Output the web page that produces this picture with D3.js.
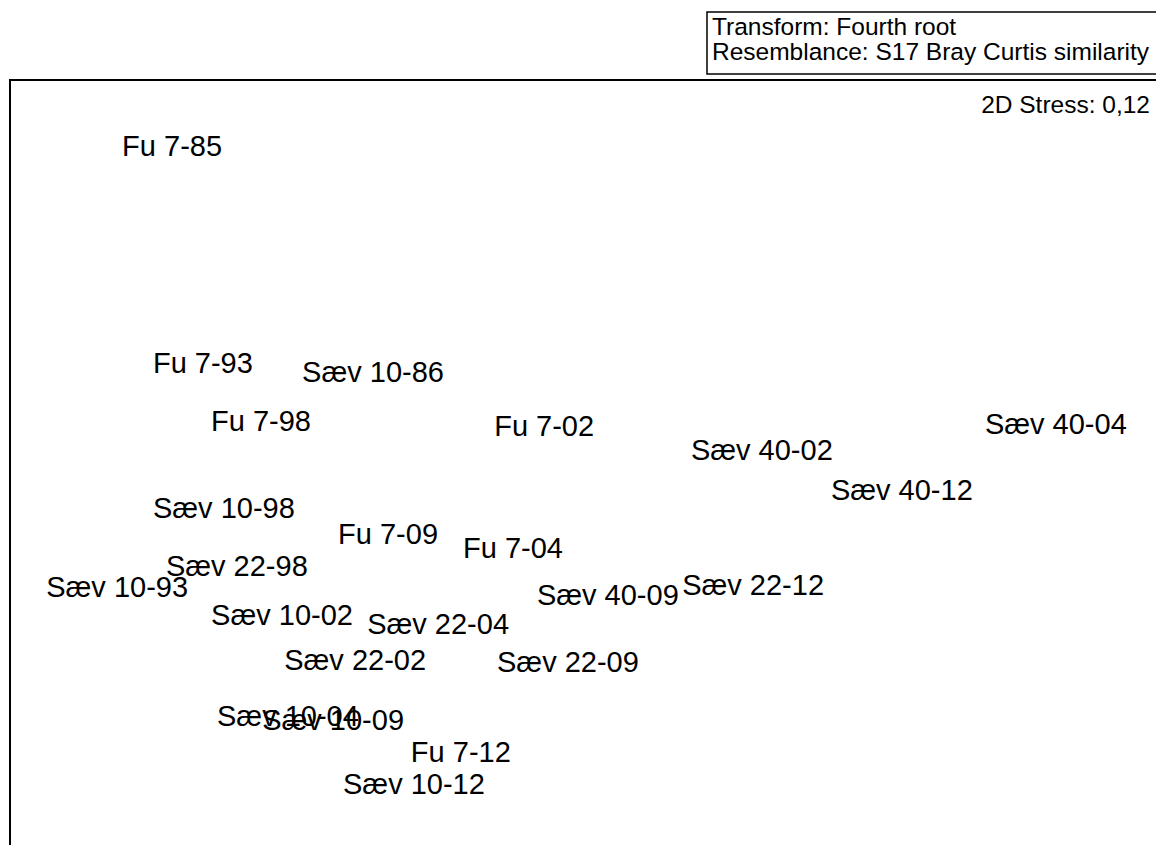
<!DOCTYPE html>
<html>
<head>
<meta charset="utf-8">
<script src="https://cdnjs.cloudflare.com/ajax/libs/d3/7.8.5/d3.min.js"></script>
<style>
  html, body { margin: 0; padding: 0; background: #fff; }
  svg { display: block; }
  text { font-family: "Liberation Sans", Arial, sans-serif; fill: #000; }
</style>
</head>
<body>
<svg id="chart" width="1156" height="845"></svg>
<script>
// nMDS ordination of samples (fourth-root transformed, Bray-Curtis similarity)
const samples = [
  "Fu 7-85", "Fu 7-93", "Sæv 10-86", "Fu 7-98", "Fu 7-02", "Sæv 40-04",
  "Sæv 40-02", "Sæv 40-12", "Sæv 10-98", "Fu 7-09", "Fu 7-04", "Sæv 22-98",
  "Sæv 10-93", "Sæv 40-09", "Sæv 22-12", "Sæv 10-02", "Sæv 22-04", "Sæv 22-02",
  "Sæv 22-09", "Sæv 10-04", "Sæv 10-09", "Fu 7-12", "Sæv 10-12"
];
const mds1 = [
  -1.194, -1.106, -0.620, -0.940, -0.131, 1.331,
   0.491,  0.891, -1.046, -0.577, -0.220, -1.009,
  -1.351,  0.051,  0.466, -0.880, -0.434, -0.671,
  -0.063, -0.863, -0.734, -0.369, -0.503
];
const mds2 = [
   0.914,  0.294,  0.266,  0.126,  0.114,  0.117,
   0.043, -0.069, -0.123, -0.197, -0.237, -0.286,
  -0.346, -0.369, -0.343, -0.426, -0.454, -0.557,
  -0.563, -0.717, -0.726, -0.820, -0.911
];
const legendLines = ["Transform: Fourth root", "Resemblance: S17 Bray Curtis similarity"];
const stressLabel = "2D Stress: 0,12";

const svg = d3.select("#chart");

// equal-aspect scales for the ordination plane
const unit = 350;
const x = d3.scaleLinear().domain([0, 1]).range([590, 590 + unit]);
const y = d3.scaleLinear().domain([0, 1]).range([465, 465 - unit]);

// plot frame (extends past the right and bottom edges)
svg.append("rect")
  .attr("x", 10).attr("y", 80)
  .attr("width", 1200).attr("height", 820)
  .attr("fill", "none").attr("stroke", "#000").attr("stroke-width", 2);

// legend box
const lg = svg.append("g");
lg.append("rect")
  .attr("x", 707).attr("y", 12)
  .attr("width", 480).attr("height", 62)
  .attr("fill", "#fff").attr("stroke", "#000").attr("stroke-width", 1.5);
lg.selectAll("text").data(legendLines).join("text")
  .attr("x", 712)
  .attr("y", (d, i) => 35 + i * 24.5)
  .attr("font-size", 24.5)
  .text(d => d);

svg.append("text")
  .attr("x", 1150).attr("y", 113)
  .attr("text-anchor", "end")
  .attr("font-size", 24.5)
  .text(stressLabel);

// sample labels placed at their ordination coordinates
svg.append("g").selectAll("text")
  .data(samples.map((s, i) => ({ s, a: mds1[i], b: mds2[i] })))
  .join("text")
  .attr("x", d => x(d.a))
  .attr("y", d => y(d.b))
  .attr("dy", "0.36em")
  .attr("text-anchor", "middle")
  .attr("font-size", 29)
  .text(d => d.s);
</script>
</body>
</html>
